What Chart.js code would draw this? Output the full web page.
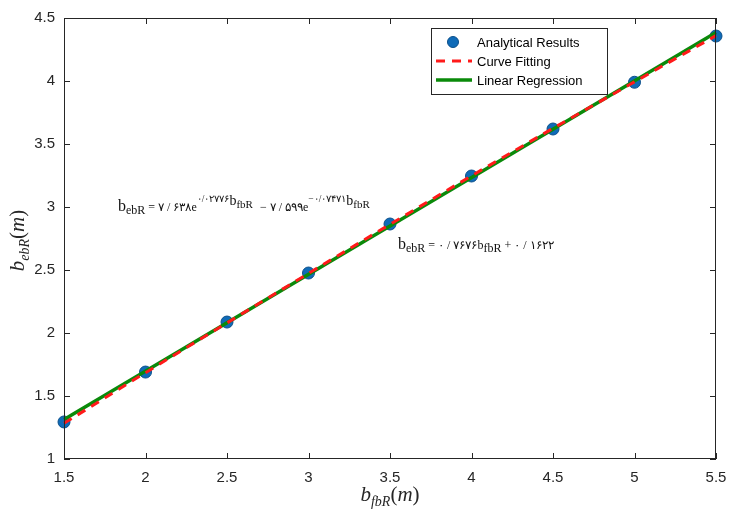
<!DOCTYPE html>
<html>
<head>
<meta charset="utf-8">
<script src="https://cdn.jsdelivr.net/npm/chart.js@4.4.1/dist/chart.umd.min.js"></script>
<style>
  html, body { margin: 0; padding: 0; background: #ffffff; }
  #wrap { width: 729px; height: 513px; }
</style>
</head>
<body>
<div id="wrap"><canvas id="c" width="729" height="513"></canvas></div>
<script>
// Sample widths b_fbR (m)
const bfbR = [1.5, 2, 2.5, 3, 3.5, 4, 4.5, 5, 5.5];
// Analytical results b_ebR (m)
const analytical = [1.294, 1.690, 2.087, 2.476, 2.865, 3.246, 3.619, 3.990, 4.357];
// Curve fitting values b_ebR (m)
const curveFit = [1.283, 1.685, 2.080, 2.473, 2.862, 3.247, 3.624, 3.993, 4.360];
// Linear regression: b_ebR = 0.7676 b_fbR + 0.1622
const slope = 0.7676;
const intercept = 0.1622;
const linearX = [1.5, 5.5];
const linearY = linearX.map(x => slope * x + intercept);

const xTicks = [1.5, 2, 2.5, 3, 3.5, 4, 4.5, 5, 5.5];
const yTicks = [1, 1.5, 2, 2.5, 3, 3.5, 4, 4.5];

const legendLabels = ['Analytical Results', 'Curve Fitting', 'Linear Regression'];

const BLUE = '#0f6bb8';
const RED = '#ff1a1a';
const GREEN = '#0a8a0a';
const AXIS = '#262626';

function toXY(xs, ys) { return xs.map((x, i) => ({ x: x, y: ys[i] })); }

// draw a sequence of text runs (base, sub, superscript pieces)
function fontOf(r) {
  return (r.italic ? 'italic ' : '') + r.size + 'px ' + (r.family || '"Liberation Serif", "DejaVu Serif", serif');
}
function drawRuns(ctx, x, y, runs) {
  ctx.textBaseline = 'alphabetic';
  ctx.textAlign = 'left';
  for (const r of runs) {
    ctx.font = fontOf(r);
    ctx.fillText(r.t, x, y + (r.dy || 0));
    x += ctx.measureText(r.t).width + (r.gap || 0);
  }
  return x;
}
function runsWidth(ctx, runs) {
  let w = 0;
  for (const r of runs) {
    ctx.font = fontOf(r);
    w += ctx.measureText(r.t).width + (r.gap || 0);
  }
  return w;
}

const decorPlugin = {
  id: 'decor',
  afterDraw(chart) {
    const ctx = chart.ctx;
    const a = chart.chartArea;
    const xs = chart.scales.x, ys = chart.scales.y;
    ctx.save();
    // axes box
    ctx.strokeStyle = AXIS;
    ctx.lineWidth = 1;
    ctx.strokeRect(a.left + 0.5, a.top + 0.5, a.right - a.left - 1, a.bottom - a.top - 1);
    // inward ticks on all sides
    const tl = 6;
    ctx.beginPath();
    for (const v of xTicks) {
      const px = Math.round(xs.getPixelForValue(v)) + 0.5;
      ctx.moveTo(px, a.bottom); ctx.lineTo(px, a.bottom - tl);
      ctx.moveTo(px, a.top); ctx.lineTo(px, a.top + tl);
    }
    for (const v of yTicks) {
      const py = Math.round(ys.getPixelForValue(v)) + 0.5;
      ctx.moveTo(a.left, py); ctx.lineTo(a.left + tl, py);
      ctx.moveTo(a.right, py); ctx.lineTo(a.right - tl, py);
    }
    ctx.stroke();

    // legend box
    const lx = 431, ly = 28, lw = 176, lh = 66;
    ctx.fillStyle = '#ffffff';
    ctx.fillRect(lx, ly, lw, lh);
    ctx.strokeStyle = '#262626';
    ctx.lineWidth = 1;
    ctx.strokeRect(lx + 0.5, ly + 0.5, lw, lh);
    const rows = [42, 61, 80];
    ctx.beginPath();
    ctx.arc(453, rows[0], 5.5, 0, Math.PI * 2);
    ctx.fillStyle = BLUE; ctx.fill();
    ctx.strokeStyle = '#0b4f8a'; ctx.lineWidth = 1; ctx.stroke();
    ctx.strokeStyle = RED; ctx.lineWidth = 3; ctx.setLineDash([9, 7]);
    ctx.beginPath(); ctx.moveTo(436, rows[1]); ctx.lineTo(472, rows[1]); ctx.stroke();
    ctx.setLineDash([]);
    ctx.strokeStyle = GREEN; ctx.lineWidth = 3.5;
    ctx.beginPath(); ctx.moveTo(436, rows[2]); ctx.lineTo(472, rows[2]); ctx.stroke();
    ctx.fillStyle = '#000000';
    ctx.font = '13px "Liberation Sans", Arial, sans-serif';
    ctx.textBaseline = 'middle'; ctx.textAlign = 'left';
    legendLabels.forEach((t, i) => ctx.fillText(t, 477, rows[i] + 1));

    // axis titles
    ctx.fillStyle = '#262626';
    const xTitle = [
      { t: 'b', size: 21, italic: true },
      { t: 'fbR', size: 14, italic: true, dy: 5 },
      { t: '(', size: 21 },
      { t: 'm', size: 21, italic: true },
      { t: ')', size: 21 }
    ];
    const cx = (a.left + a.right) / 2;
    drawRuns(ctx, cx - runsWidth(ctx, xTitle) / 2, 501, xTitle);

    const yTitle = [
      { t: 'b', size: 21, italic: true },
      { t: 'ebR', size: 14, italic: true, dy: 5 },
      { t: '(', size: 21 },
      { t: 'm', size: 21, italic: true },
      { t: ')', size: 21 }
    ];
    ctx.save();
    ctx.translate(24, (a.top + a.bottom) / 2 + 2);
    ctx.rotate(-Math.PI / 2);
    drawRuns(ctx, -runsWidth(ctx, yTitle) / 2, 0, yTitle);
    ctx.restore();

    // fitted equations
    ctx.fillStyle = '#111111';
    drawRuns(ctx, 118, 211, [
      { t: 'b', size: 16 },
      { t: 'ebR', size: 12, dy: 3 },
      { t: ' = ۷ / ۶۳۸e', size: 12 },
      { t: '۰/۰۲۷۷۶', size: 9.5, dy: -9 },
      { t: 'b', size: 14, dy: -6 },
      { t: 'fbR', size: 11, dy: -3, gap: 4 },
      { t: ' − ۷ / ۵۹۹e', size: 12 },
      { t: '−۰/۰۷۴۷۱', size: 9.5, dy: -9 },
      { t: 'b', size: 14, dy: -6 },
      { t: 'fbR', size: 11, dy: -3 }
    ]);
    drawRuns(ctx, 398, 249, [
      { t: 'b', size: 16 },
      { t: 'ebR', size: 12, dy: 3 },
      { t: ' = ۰ / ۷۶۷۶b', size: 12 },
      { t: 'fbR', size: 12, dy: 3 },
      { t: ' + ۰ / ۱۶۲۲', size: 12 }
    ]);
    ctx.restore();
  }
};

new Chart(document.getElementById('c'), {
  type: 'scatter',
  data: {
    datasets: [
      {
        label: legendLabels[2],
        data: toXY(linearX, linearY),
        showLine: true,
        borderColor: GREEN,
        borderWidth: 3.5,
        pointRadius: 0,
        clip: false,
        order: 3
      },
      {
        label: legendLabels[1],
        data: toXY(bfbR, curveFit),
        showLine: true,
        borderColor: RED,
        borderWidth: 3,
        borderDash: [9, 7],
        pointRadius: 0,
        cubicInterpolationMode: 'monotone',
        clip: false,
        order: 2
      },
      {
        label: legendLabels[0],
        data: toXY(bfbR, analytical),
        showLine: false,
        backgroundColor: BLUE,
        borderColor: '#0b4f8a',
        borderWidth: 1,
        pointRadius: 6,
        clip: false,
        order: 4
      }
    ]
  },
  options: {
    responsive: false,
    animation: false,
    devicePixelRatio: 1,
    layout: { padding: { top: 18, right: 13, left: 0, bottom: 0 } },
    plugins: {
      legend: { display: false },
      tooltip: { enabled: false }
    },
    scales: {
      x: {
        type: 'linear',
        min: 1.5, max: 5.5,
        afterBuildTicks(s) { s.ticks = xTicks.map(v => ({ value: v })); },
        afterFit(s) { s.height = 54; s.paddingLeft = 0; s.paddingRight = 0; },
        grid: { display: false, drawTicks: false },
        border: { display: false },
        ticks: {
          color: AXIS,
          font: { family: '"Liberation Sans", Arial, sans-serif', size: 15 },
          padding: 10,
          maxRotation: 0,
          autoSkip: false,
          callback: v => String(v)
        }
      },
      y: {
        type: 'linear',
        min: 1, max: 4.5,
        afterBuildTicks(s) { s.ticks = yTicks.map(v => ({ value: v })); },
        afterFit(s) { s.width = 64; s.paddingTop = 0; s.paddingBottom = 0; },
        grid: { display: false, drawTicks: false },
        border: { display: false },
        ticks: {
          color: AXIS,
          font: { family: '"Liberation Sans", Arial, sans-serif', size: 15 },
          padding: 9,
          autoSkip: false,
          callback: v => String(v)
        }
      }
    }
  },
  plugins: [decorPlugin]
});
</script>
</body>
</html>
